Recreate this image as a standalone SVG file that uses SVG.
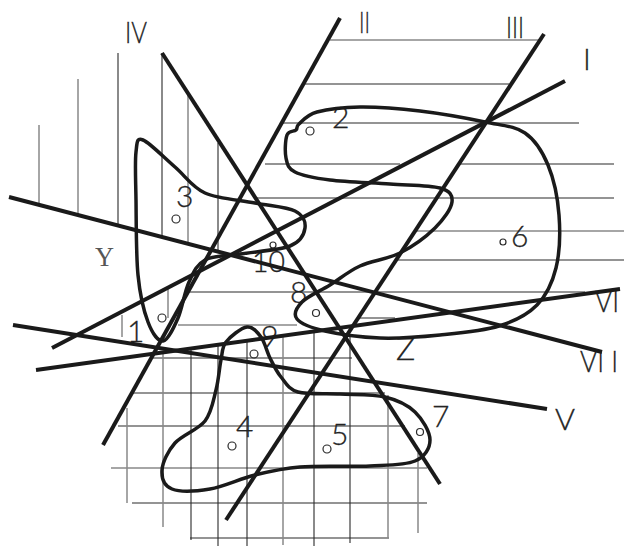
<svg xmlns="http://www.w3.org/2000/svg" width="624" height="546" viewBox="0 0 624 546">
<style>
.h{stroke:#2a2a2a;stroke-width:1.1;fill:none}
.g{stroke:#888;stroke-width:1.5;fill:none}
.blob{stroke:#1a1a1a;stroke-width:3.5;fill:none;stroke-linejoin:round}
.ln{stroke:#1a1a1a;stroke-width:4;fill:none;stroke-linecap:butt}
.pt{stroke:#2a2a2a;stroke-width:1.2;fill:none}
.t{font-family:Lato,"Liberation Sans",sans-serif;font-weight:300;font-size:30px;fill:#222;stroke:#222;stroke-width:0.3}
.y{font-family:"Liberation Serif","DejaVu Serif",serif;font-size:27px;fill:#555}
</style>
<rect width="624" height="546" fill="#fff"/>
<g id="hatching">
<line class="g" x1="39" y1="125" x2="39" y2="205"/>
<line class="g" x1="78" y1="79" x2="78" y2="215"/>
<line class="h" x1="118" y1="53" x2="118" y2="225"/>
<line class="h" x1="162" y1="53" x2="162" y2="237"/>
<line class="g" x1="188" y1="95" x2="188" y2="244"/>
<line class="h" x1="218" y1="143" x2="218" y2="252"/>
<line class="g" x1="122" y1="315" x2="122" y2="337"/>
<line class="g" x1="168" y1="288" x2="168" y2="318"/>
<line class="g" x1="330" y1="40" x2="539" y2="40"/>
<line class="h" x1="303" y1="84" x2="509" y2="84"/>
<line class="h" x1="282" y1="123" x2="579" y2="123"/>
<line class="h" x1="265" y1="164" x2="400" y2="164"/>
<line class="h" x1="460" y1="164" x2="614" y2="164"/>
<line class="h" x1="256" y1="198" x2="614" y2="198"/>
<line class="g" x1="415" y1="231" x2="624" y2="231"/>
<line class="h" x1="397" y1="260" x2="624" y2="260"/>
<line class="h" x1="188" y1="292" x2="585" y2="292"/>
<line class="h" x1="358" y1="318" x2="395" y2="318"/>
<line class="g" x1="178" y1="325" x2="297" y2="325"/>
<line class="h" x1="153" y1="358" x2="352" y2="358"/>
<line class="h" x1="130" y1="393" x2="385" y2="393"/>
<line class="h" x1="118" y1="426" x2="405" y2="426"/>
<line class="g" x1="111" y1="468" x2="427" y2="468"/>
<line class="h" x1="132" y1="503" x2="427" y2="503"/>
<line class="h" x1="190" y1="538" x2="389" y2="538"/>
<line class="g" x1="127" y1="408" x2="127" y2="503"/>
<line class="g" x1="163" y1="352" x2="163" y2="527"/>
<line class="h" x1="191" y1="348" x2="191" y2="540"/>
<line class="h" x1="218" y1="345" x2="218" y2="546"/>
<line class="h" x1="247" y1="340" x2="247" y2="546"/>
<line class="g" x1="283" y1="336" x2="283" y2="545"/>
<line class="h" x1="314" y1="332" x2="314" y2="546"/>
<line class="h" x1="350" y1="336" x2="350" y2="543"/>
<line class="g" x1="388" y1="395" x2="388" y2="538"/>
<line class="g" x1="418" y1="453" x2="418" y2="533"/>
</g>
<g id="labels" opacity="0.99">
<text class="t" x="125" y="43" textLength="22" lengthAdjust="spacingAndGlyphs">IV</text>
<text class="t" x="359" y="33" textLength="11" lengthAdjust="spacingAndGlyphs">II</text>
<text class="t" x="506" y="38" textLength="18" lengthAdjust="spacingAndGlyphs">III</text>
<text class="t" x="583" y="70">I</text>
<text class="t" x="595" y="312" textLength="24" lengthAdjust="spacingAndGlyphs">VI</text>
<text class="t" x="580" y="372" textLength="38" lengthAdjust="spacingAndGlyphs">VI I</text>
<text class="t" x="555" y="430" textLength="20" lengthAdjust="spacingAndGlyphs">V</text>
<text class="t" x="332" y="128">2</text>
<text class="t" x="176" y="207">3</text>
<text class="t" x="511" y="247">6</text>
<text class="t" x="252" y="272" textLength="33" lengthAdjust="spacingAndGlyphs">10</text>
<text class="t" x="290" y="303">8</text>
<text class="t" x="127" y="342">1</text>
<text class="t" x="261" y="347">9</text>
<text class="t" x="236" y="437">4</text>
<text class="t" x="331" y="445">5</text>
<text class="t" x="432" y="427">7</text>
<text class="t" x="396" y="360" style="font-size:32px">Z</text>
<text class="y" x="95" y="266" textLength="19" lengthAdjust="spacingAndGlyphs">Y</text>
</g>
<g id="region-3">
<path class="blob" d="M143,140 C149.5,142.5 164.7,158.2 175,167 C185.3,175.8 191.7,187 205,193 C218.3,199 240,200 255,203 C270,206 286.7,206.8 295,211 C303.3,215.2 305.8,222.2 305,228 C304.2,233.8 300.8,241.7 290,246 C279.2,250.3 254.2,251.7 240,254 C225.8,256.3 213.5,255.3 205,260 C196.5,264.7 193.5,272.3 189,282 C184.5,291.7 182.3,308.2 178,318 C173.7,327.8 168,340.3 163,341 C158,341.7 152.2,333 148,322 C143.8,311 140,295.3 138,275 C136,254.7 136.3,220.5 136,200 C135.7,179.5 134.8,162 136,152 C137.2,142 136.5,137.5 143,140 Z"/>
</g>
<g id="region-2-6">
<path class="blob" d="M299,124 C302.5,121 306.8,114.8 317,112 C327.2,109.2 342.8,107.2 360,107 C377.2,106.8 399.2,108.5 420,111 C440.8,113.5 467.5,118.3 485,122 C502.5,125.7 514.5,125.8 525,133 C535.5,140.2 542.3,151.3 548,165 C553.7,178.7 557.7,197.8 559,215 C560.3,232.2 559.7,253 556,268 C552.3,283 546.5,295.3 537,305 C527.5,314.7 515.2,321 499,326 C482.8,331 459.8,333 440,335 C420.2,337 399.2,338.7 380,338 C360.8,337.3 338.8,334.2 325,331 C311.2,327.8 300.8,323.8 297,319 C293.2,314.2 296.5,307.7 302,302 C307.5,296.3 320.3,291 330,285 C339.7,279 348.3,271.3 360,266 C371.7,260.7 387.5,259.3 400,253 C412.5,246.7 426.3,236.5 435,228 C443.7,219.5 451.2,208.7 452,202 C452.8,195.3 450.3,191 440,188 C429.7,185 408.3,185.3 390,184 C371.7,182.7 345.8,182 330,180 C314.2,178 302.3,175.7 295,172 C287.7,168.3 287.3,164.2 286,158 C284.7,151.8 285.3,139.7 287,135 C288.7,130.3 294,131.8 296,130 C298,128.2 295.5,127 299,124 Z"/>
</g>
<g id="region-4-5-7">
<path class="blob" d="M247,327 C252.8,326.2 257.2,331.8 261,337 C264.8,342.2 266.7,351.3 270,358 C273.3,364.7 276.3,371.3 281,377 C285.7,382.7 288.2,389.2 298,392 C307.8,394.8 325.5,393.2 340,394 C354.5,394.8 372.5,394 385,397 C397.5,400 407.5,404.8 415,412 C422.5,419.2 430,431.8 430,440 C430,448.2 425,456.7 415,461 C405,465.3 389.2,465 370,466 C350.8,467 319.2,465.5 300,467 C280.8,468.5 270,471.3 255,475 C240,478.7 223.8,486.7 210,489 C196.2,491.3 180,492.2 172,489 C164,485.8 161.5,477.7 162,470 C162.5,462.3 167.8,451.2 175,443 C182.2,434.8 198.2,429.8 205,421 C211.8,412.2 213.3,400.2 216,390 C218.7,379.8 219.3,368 221,360 C222.7,352 221.7,347.5 226,342 C230.3,336.5 241.2,327.8 247,327 Z"/>
</g>
<g id="connectors">
<line class="ln" x1="565" y1="81" x2="52" y2="348"/>
<line class="ln" x1="340" y1="18" x2="103" y2="445"/>
<line class="ln" x1="544" y1="34" x2="226" y2="520"/>
<line class="ln" x1="162" y1="53" x2="440" y2="484"/>
<line class="ln" x1="13" y1="325" x2="547" y2="409"/>
<line class="ln" x1="36" y1="370" x2="620" y2="289"/>
<line class="ln" x1="9" y1="197" x2="602" y2="352"/>
</g>
<g id="points">
<circle class="pt" cx="310" cy="131" r="4"/>
<circle class="pt" cx="176" cy="219" r="4"/>
<circle class="pt" cx="503" cy="242" r="3"/>
<circle class="pt" cx="273" cy="245" r="3"/>
<circle class="pt" cx="316" cy="313" r="3.5"/>
<circle class="pt" cx="162" cy="318" r="4"/>
<circle class="pt" cx="254" cy="354" r="4"/>
<circle class="pt" cx="232" cy="446" r="4"/>
<circle class="pt" cx="327" cy="449" r="4"/>
<circle class="pt" cx="420" cy="432" r="3.5"/>
</g>
</svg>
